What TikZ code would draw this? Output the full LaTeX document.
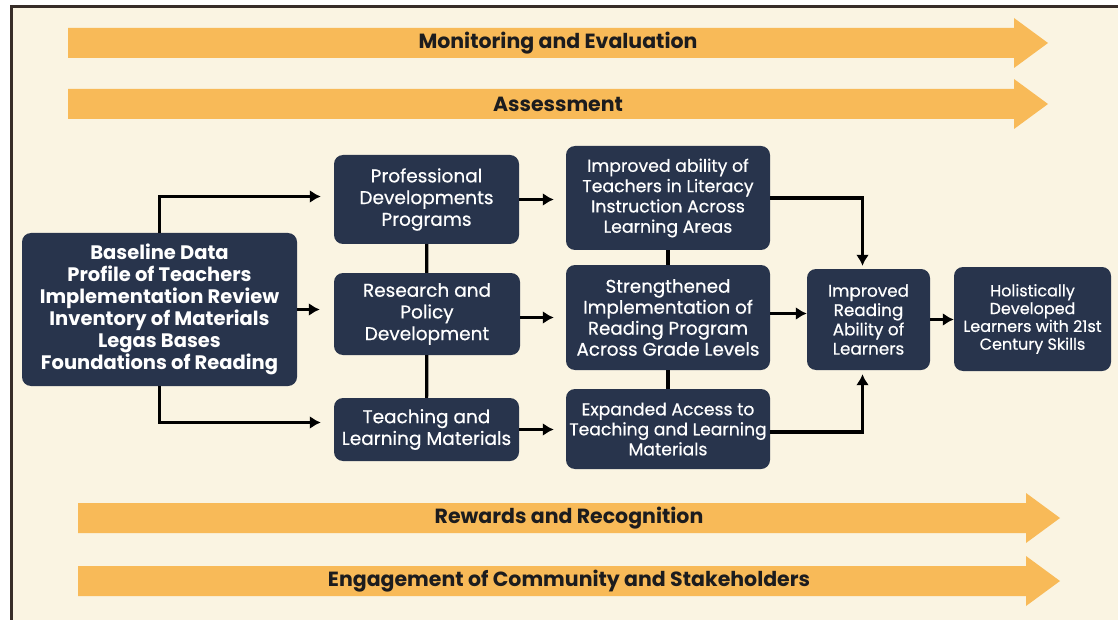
\documentclass[tikz,border=0pt]{standalone}
\usepackage{fontspec}
\setmainfont{Poppins}
\newfontfamily\medfont{Poppins}[FakeBold=0.5]
\usetikzlibrary{positioning,arrows.meta}
\definecolor{paper}{RGB}{250,244,226}
\definecolor{navy}{RGB}{40,52,76}
\definecolor{amber}{RGB}{248,186,88}
\definecolor{ink}{RGB}{28,28,30}
\definecolor{rim}{RGB}{55,45,40}
\newcommand\Band[5]{
\fill[amber]
  (#3,#2-15) -- (#4-34,#2-15) -- (#4-34,#2-25) -- (#4,#2)
  -- (#4-34,#2+25) -- (#4-34,#2+15) -- (#3,#2+15) -- cycle;
\node[bandtext] (#1) at ({(#3+#4)/2},#2) {#5};
}

\begin{document}
\begin{tikzpicture}[x=1pt,y=-1pt,>={Latex[length=11pt,width=13pt]},
  box/.style={fill=navy,text=white,rounded corners=9pt,align=center,inner sep=2pt},
  bandtext/.style={text=ink,font=\fontsize{20.5}{24}\selectfont\bfseries},
  link/.style={line width=3.2pt,draw=black}]
\useasboundingbox (0,0) rectangle (1118,620);
\fill[white] (0,0) rectangle (1118,620);
\fill[paper] (11,7) rectangle (1118,620);
\draw[rim,line width=3pt] (11,620) -- (11,7) -- (1118,7);

\Band{monitor}{43}{68}{1048}{Monitoring and Evaluation}
\Band{assess}{104}{68}{1048}{Assessment}
\Band{reward}{518}{78}{1060}{Rewards and Recognition}
\Band{engage}{581}{78}{1060}{Engagement of Community and Stakeholders}

\node[box,minimum width=275pt,minimum height=153pt,font=\fontsize{19.5}{22}\selectfont\bfseries]
  (base) at (159.5,309.5) {Baseline Data\\Profile of Teachers\\Implementation Review\\Inventory of Materials\\Legas Bases\\Foundations of Reading};

\node[box,minimum width=185pt,minimum height=89pt,font=\fontsize{18.5}{21.7}\medfont]
  (prof) at (426.5,199.5) {Professional\\Developments\\Programs};
\node[box,minimum width=186pt,minimum height=82pt,font=\fontsize{18.5}{21.7}\medfont]
  (research) at (427,314) {Research and\\Policy\\Development};
\node[box,minimum width=185pt,minimum height=63pt,font=\fontsize{18.5}{21.7}\medfont]
  (teach) at (426.5,429.5) {Teaching and\\Learning Materials};

\node[box,minimum width=204pt,minimum height=104pt,font=\fontsize{17.3}{20.3}\medfont]
  (ability) at (668,198) {Improved ability of\\Teachers in Literacy\\Instruction Across\\Learning Areas};
\node[box,minimum width=204pt,minimum height=105pt,font=\fontsize{18.3}{21}\medfont]
  (strength) at (668,317.5) {Strengthened\\Implementation of\\Reading Program\\Across Grade Levels};
\node[box,minimum width=204pt,minimum height=80pt,font=\fontsize{17.2}{20}\medfont]
  (expand) at (668,429) {Expanded Access to\\Teaching and Learning\\Materials};

\node[box,minimum width=123pt,minimum height=101pt,font=\fontsize{16.8}{19.3}\medfont]
  (reading) at (868.5,319.5) {Improved\\Reading\\Ability of\\Learners};
\node[box,minimum width=157pt,minimum height=104pt,font=\fontsize{16}{17.8}\medfont]
  (holistic) at (1032.5,319) {Holistically\\Developed\\Learners with 21st\\Century Skills};

\draw[link,->,shorten >=13pt] (base.north) |- ([yshift=3pt]prof.west);
\draw[link,->,shorten >=14pt] (base.east) -- (base.east -| research.west);
\draw[link,->,shorten >=13pt] (base.south) |- ([yshift=7pt]teach.west);
\draw[link] (prof) -- (research) -- (teach);

\draw[link,->,shorten >=12pt] (prof.east) -- (prof.east -| ability.west);
\draw[link,->,shorten >=12pt] (strength.west -| research.east) -- (strength.west);
\draw[link,->,shorten >=12pt] (teach.east) -- (teach.east -| expand.west);
\draw[link] (ability) -- (strength) -- (expand);

\draw[link,->,shorten >=3pt] (ability.east) -| ([xshift=-6pt]reading.north);
\draw[link,->] ([yshift=4pt]strength.east) -- ([yshift=4pt]strength.east -| reading.west);
\draw[link,->,shorten >=4pt] ([yshift=-3pt]expand.east) -| ([xshift=-6pt]reading.south);
\draw[link,->] (reading.east) -- (reading.east -| holistic.west);
\end{tikzpicture}
\end{document}
